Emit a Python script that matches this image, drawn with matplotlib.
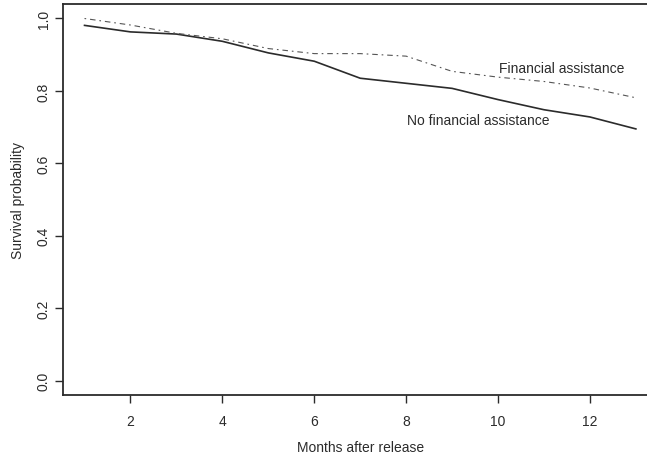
import matplotlib.pyplot as plt

# months after release
months = [1, 2, 3, 4, 5, 6, 7, 8, 9, 10, 11, 12, 13]

# survival probability
no_assistance = [0.981, 0.963, 0.957, 0.937, 0.905, 0.882, 0.835, 0.821,
                 0.807, 0.776, 0.748, 0.728, 0.695]
assistance = [1.000, 0.982, 0.959, 0.944, 0.917, 0.903, 0.903, 0.896,
              0.854, 0.838, 0.826, 0.808, 0.781]

x_ticks = [2, 4, 6, 8, 10, 12]
y_ticks = [0.0, 0.2, 0.4, 0.6, 0.8, 1.0]

ink = '#2b2b2b'
plt.rcParams['font.family'] = ['Liberation Sans', 'DejaVu Sans']

fig = plt.figure(figsize=(6.47, 4.60), dpi=100)
# axes run past the right edge, the original is cropped there
ax = fig.add_axes([0.0974, 0.1391, 0.9195, 0.85])

ax.plot(months, no_assistance, color=ink, linewidth=1.2)
ax.plot(months, assistance, color='#555555', linewidth=0.8,
        linestyle=(0, (1.5, 3.5, 5, 3.5)))

ax.text(10.02, 0.863, 'Financial assistance', fontsize=10, color=ink,
        ha='left', va='center')
ax.text(8.02, 0.721, 'No financial assistance', fontsize=10, color=ink,
        ha='left', va='center')

ax.set_xlim(0.532, 13.48)
ax.set_ylim(-0.04, 1.04)
ax.set_xticks(x_ticks)
ax.set_yticks(y_ticks)
ax.set_yticklabels(['{:.1f}'.format(v) for v in y_ticks], rotation=90,
                   va='center')

ax.tick_params(direction='out', length=6, width=1, colors=ink,
               labelsize=10)
ax.tick_params(axis='x', pad=8)
ax.tick_params(axis='y', pad=3)
for side in ax.spines.values():
    side.set_color(ink)
    side.set_linewidth(1.3)

ax.set_xlabel('Months after release', fontsize=10, color=ink, labelpad=8.5)
ax.set_ylabel('Survival probability', fontsize=10, color=ink, labelpad=8)

fig.savefig('out.png', dpi=100)
